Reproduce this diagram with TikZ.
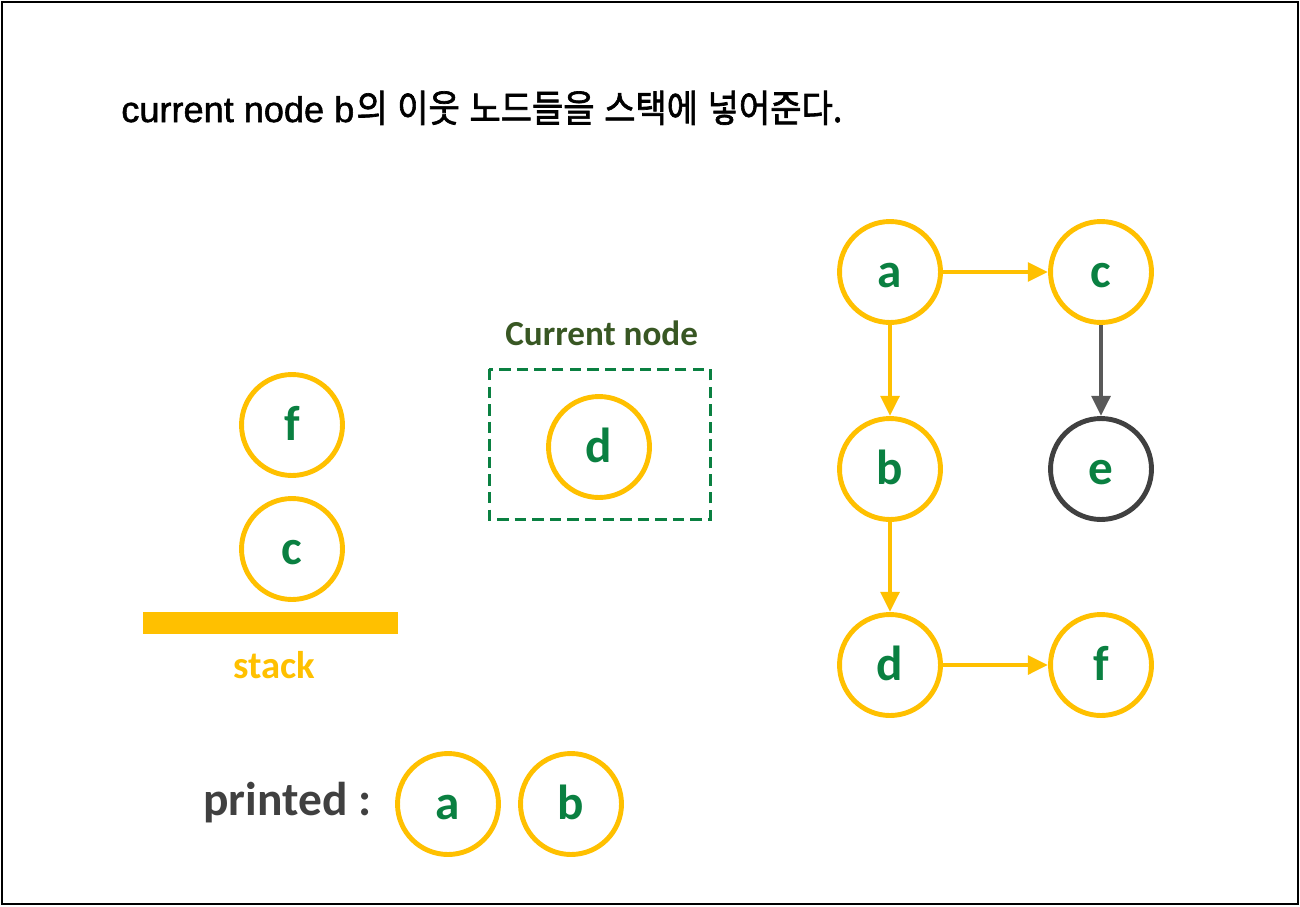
\documentclass[tikz,border=0pt]{standalone}
\usepackage{fontspec}
\setmainfont{Carlito}
\newfontfamily\kor[FakeBold=1.8]{Noto Sans CJK KR}
\newfontfamily\lat[FakeBold=1.5]{Liberation Sans}
\usetikzlibrary{arrows.meta}
\definecolor{gold}{HTML}{FFC000}
\definecolor{lgreen}{HTML}{0A8041}
\definecolor{dgreen}{HTML}{385723}
\definecolor{dgray}{HTML}{404040}
\definecolor{agray}{HTML}{595959}
\begin{document}
\begin{tikzpicture}[x=0.02cm,y=-0.02cm,
  vtx/.style={circle,draw=gold,line width=2.8pt,minimum size=2.02cm,inner sep=0pt,
    font=\fontsize{28}{28}\selectfont\bfseries,text=lgreen,text height=17.6pt,text depth=0pt},
  tipk/.style={-{Triangle[length=11.5pt,width=10.5pt]}},
  edge/.style={draw=gold,line width=2.6pt,tipk},
  lbl/.style={anchor=base west,inner sep=0pt,font=\bfseries}
  ]
\useasboundingbox (0,0) rectangle (1300,906);
\draw[line width=1.2pt] (2,2) rectangle (1298,904);
% title
\node[anchor=base west,inner sep=0pt] (title) at (121,122)
  {\resizebox{4.66cm}{\height}{\lat\fontsize{20.4}{22}\selectfont current node b}\hspace{1.2pt}%
   \resizebox{9.72cm}{\height}{\kor\fontsize{21.5}{22}\selectfont 의\hspace{6pt}이웃\hspace{6pt}노드들을\hspace{6pt}스택에\hspace{6pt}넣어준다.}};
% stack
\node[vtx] (sf) at (292,425) {f};
\node[vtx] (sc) at (292,549) {c};
\fill[gold] (143,612) rectangle (398,634);
\node[lbl,text=gold,font=\fontsize{22}{22}\selectfont\bfseries] (stk) at (233,678) {stack};
% current node
\node[lbl,text=dgreen,font=\fontsize{20}{20}\selectfont\bfseries] (curl) at (505,345) {Current node};
\draw[lgreen,line width=1.7pt,dash pattern=on 6.5pt off 3.5pt] (489,369) rectangle (710,519);
\node[vtx] (cd) at (599,447) {d};
% graph
\node[vtx] (a) at (890,272) {a};
\node[vtx] (c) at (1101,272) {c};
\node[vtx] (b) at (890,469) {b};
\node[vtx,draw=dgray] (e) at (1101,469) {e};
\node[vtx] (d) at (890,665) {d};
\node[vtx] (f) at (1101,665) {f};
\draw[edge] (a) -- (c);
\draw[edge] (a) -- (b);
\draw[edge] (b) -- (d);
\draw[edge] (d) -- (f);
\draw[edge,draw=agray] (c) -- (e);
% printed
\node[lbl,text=dgray,font=\fontsize{27}{27}\selectfont\bfseries] (pr) at (203,815) {printed :};
\node[vtx] (pa) at (448,804) {a};
\node[vtx] (pb) at (571,804) {b};
\end{tikzpicture}
\end{document}
